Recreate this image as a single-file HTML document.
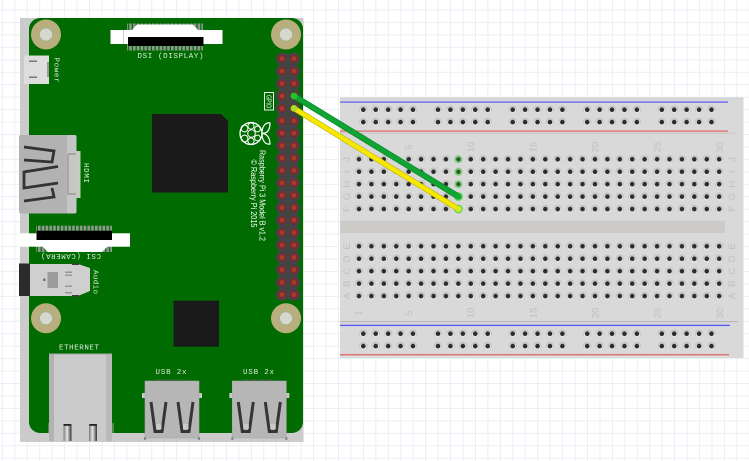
<!DOCTYPE html>
<html><head><meta charset="utf-8"><style>
html,body{margin:0;padding:0;background:#fff}
svg{display:block}
text{font-family:"Liberation Mono",monospace}
.s{font-family:"Liberation Sans",sans-serif}
.w{fill:#dfecdf;font-size:7.5px}
.n{fill:#bfbfbf;font-size:9.5px;font-family:"Liberation Sans",sans-serif;text-anchor:middle}
</style></head><body>
<svg width="749" height="461" viewBox="0 0 749 461" xmlns="http://www.w3.org/2000/svg">
<defs>
<pattern id="grid" patternUnits="userSpaceOnUse" x="1.85" y="9.500" width="12.45" height="12.45">
<path d="M.5 0V12.45M0 .5H12.45" stroke="#ebeef4" stroke-width="1" fill="none"/>
</pattern>
<pattern id="hole" patternUnits="userSpaceOnUse" x="352.79" y="153.1" width="12.42" height="12.45">
<circle cx="6.21" cy="6.22" r="4.200" fill="#c4c4c4"/><circle cx="6.21" cy="7" r="3.400" fill="#e0e0e0"/><circle cx="6.21" cy="6.22" r="2.300" fill="#2c2c2c"/>
</pattern>
<pattern id="hole2" patternUnits="userSpaceOnUse" x="352.79" y="240.1" width="12.42" height="12.45">
<circle cx="6.21" cy="6.22" r="4.200" fill="#c4c4c4"/><circle cx="6.21" cy="7" r="3.400" fill="#e0e0e0"/><circle cx="6.21" cy="6.22" r="2.300" fill="#2c2c2c"/>
</pattern>
<g id="rh"><circle cx="0" cy="0" r="4.200" fill="#c4c4c4"/><circle cx="0" cy=".8" r="3.400" fill="#e0e0e0"/><circle cx="0" cy="0" r="2.300" fill="#2c2c2c"/></g>
<g id="r5"><use href="#rh" x="0"/><use href="#rh" x="12.42"/><use href="#rh" x="24.84"/><use href="#rh" x="37.26"/><use href="#rh" x="49.68"/></g>
<g id="r52"><use href="#r5" y="0"/><use href="#r5" y="12.4"/></g>
<g id="rail"><use href="#r52" x="363.3"/><use href="#r52" x="438"/><use href="#r52" x="512.7"/><use href="#r52" x="587.2"/><use href="#r52" x="661.8"/></g>
<g id="pr"><circle cx="282" cy="0" r="6.300" fill="#444"/><circle cx="294" cy="0" r="6.300" fill="#444"/><circle cx="282" cy="0" r="4" fill="#7e2a28"/><circle cx="294" cy="0" r="4" fill="#7e2a28"/><circle cx="282" cy="0" r="2.400" fill="#a63a32"/><circle cx="294" cy="0" r="2.400" fill="#a63a32"/></g>
<g id="mount"><circle r="15" fill="#b9ae7e"/><circle r="6.6" fill="#d5d8d0" stroke="#a8b088" stroke-width="1"/></g>
<pattern id="teeth" patternUnits="userSpaceOnUse" x="0" y="0" width="3.8" height="10"><rect width="2.6" height="10" fill="#8f9a8f"/></pattern>
<linearGradient id="leg" x1="0" x2="1" y1="0" y2="0"><stop offset="0" stop-color="#777"/><stop offset=".45" stop-color="#e8e8e8"/><stop offset="1" stop-color="#333"/></linearGradient>
<g id="usb">
<rect x="-3" y="12" width="4" height="5" fill="#c8c8c8"/><rect x="53" y="12" width="4" height="5" fill="#c8c8c8"/>
<rect x="0" y="0" width="54" height="57" fill="#b6b6b6" stroke="#a8a8a8" stroke-width=".6"/>
<rect x="-1" y="56" width="2" height="3" fill="#888"/><rect x="53" y="56" width="2" height="3" fill="#888"/>
<path d="M6 21L10 50.500H17L21 21" fill="none" stroke="#353535" stroke-width="3"/>
<path d="M33 21L37 50.500H44L48 21" fill="none" stroke="#353535" stroke-width="3"/>
<rect x="11" y="43" width="5.500" height="5" fill="#c9c9c9"/><rect x="38" y="43" width="5.500" height="5" fill="#c9c9c9"/>
<rect x="12" y="-1.500" width="4" height="1.500" fill="#565f56"/><rect x="20" y="-1.500" width="4" height="1.500" fill="#565f56"/><rect x="28" y="-1.500" width="4" height="1.500" fill="#565f56"/><rect x="36" y="-1.500" width="4" height="1.500" fill="#565f56"/>
</g>
</defs>

<rect width="749" height="461" fill="#fff"/>
<rect width="749" height="461" fill="url(#grid)"/>

<!-- Raspberry Pi -->
<rect x="20" y="18" width="283.500" height="424" fill="#cbcbcb"/>
<rect x="29" y="18" width="274" height="415" rx="11" fill="#006b00"/>
<use href="#mount" x="46" y="34.500"/><use href="#mount" x="286" y="34.500"/>
<use href="#mount" x="46" y="318.300"/><use href="#mount" x="286" y="318.300"/>

<!-- DSI -->
<rect x="127" y="23.500" width="76" height="27" fill="url(#teeth)"/>
<rect x="110.500" y="30" width="112" height="14" fill="#fff"/>
<path d="M132 30L137 24.500H193L198 30Z" fill="#fff"/>
<rect x="123" y="30" width="1" height="14" fill="#cfcfcf"/>
<rect x="128" y="37" width="75.500" height="9" fill="#000"/>
<text class="w" x="137.500" y="58" textLength="66" lengthAdjust="spacing">DSI (DISPLAY)</text>

<!-- Power -->
<rect x="24" y="55.500" width="25" height="28.500" fill="#dedede"/>
<rect x="47" y="62" width="2" height="15" fill="#9a9a9a"/>
<rect x="29" y="60.500" width="8" height="1.500" fill="#777"/><rect x="29" y="76.500" width="8" height="1.500" fill="#777"/>
<text class="w" transform="translate(54.500,57.500) rotate(90)" textLength="25" lengthAdjust="spacing">Power</text>

<!-- HDMI -->
<rect x="19" y="135" width="57.500" height="78.500" rx="2" fill="#b2b2b2"/>
<rect x="67" y="135" width="9.500" height="78.500" rx="2" fill="#c6c6c6"/>
<path d="M68 154H76M68 154V194H76" fill="none" stroke="#9c9c9c" stroke-width="1.500"/>
<rect x="76.500" y="151" width="4" height="47" fill="#c4ccc0"/>
<g fill="none" stroke="#333" stroke-width="2.800" stroke-linejoin="miter">
<path d="M24 147L54 151L52 162L24 160"/>
<path d="M58 166.500L24 172V188L58 183"/>
<path d="M52 188L54 197L24 201"/>
</g>
<text class="w" transform="translate(84,163) rotate(90)" textLength="20" lengthAdjust="spacing">HDMI</text>

<!-- CPU -->
<path d="M152 114H221L228 121V192.500H152Z" fill="#1a1a1a"/>
<rect x="173.500" y="300.700" width="45.500" height="46" fill="#1a1a1a"/>

<!-- CSI -->
<rect x="36" y="225.700" width="76" height="26.300" fill="url(#teeth)"/>
<rect x="19" y="233.300" width="111" height="13.400" fill="#fff"/>
<path d="M42 246L48 252H102L108 246Z" fill="#fff"/>
<rect x="36.500" y="230.700" width="75.500" height="9.300" fill="#000"/>
<text class="w" transform="translate(101,254) rotate(180)" textLength="60" lengthAdjust="spacing">CSI (CAMERA)</text>

<!-- Audio -->
<rect x="19" y="263.500" width="11" height="32.500" fill="#2b2b2b"/>
<path d="M30 264H78L90 268V291L78 296H30Z" fill="#cfcfcf"/>
<rect x="72" y="263.500" width="7" height="1.500" fill="#3c3c3c"/><rect x="72" y="295" width="7" height="1.500" fill="#3c3c3c"/>
<rect x="47.500" y="272" width="10.500" height="16" fill="#9b9b9b"/>
<rect x="43" y="278.500" width="2.500" height="2.500" fill="#777"/>
<rect x="65" y="271.500" width="7" height="1.500" fill="#999"/><rect x="65" y="274.500" width="7" height="1.500" fill="#999"/>
<rect x="65" y="285.500" width="7" height="1.500" fill="#999"/><rect x="65" y="292" width="7" height="1.500" fill="#999"/>
<text class="w" transform="translate(93.500,270) rotate(90)" textLength="24" lengthAdjust="spacing">Audio</text>

<!-- Ethernet -->
<text class="w" x="59" y="349.500" textLength="40" lengthAdjust="spacing">ETHERNET</text>
<rect x="48" y="423" width="66" height="10" fill="#a0a8a0" opacity=".5"/>
<rect x="49" y="353.500" width="63" height="87.500" fill="#cbcbcb"/>
<rect x="49" y="353.500" width="5" height="87.500" fill="#b2b2b2"/>
<rect x="106" y="353.500" width="6" height="87.500" fill="#bababa"/>
<rect x="49" y="353.500" width="63" height="1" fill="#a8a8a8"/>
<rect x="63.500" y="424" width="8" height="17" fill="url(#leg)"/><rect x="89" y="424" width="8" height="17" fill="url(#leg)"/>
<rect x="63.500" y="424" width="7" height="1.800" fill="#222"/><rect x="89.500" y="424" width="7" height="1.800" fill="#222"/>

<!-- USB -->
<text class="w" x="155.500" y="374" textLength="31" lengthAdjust="spacing">USB 2x</text>
<text class="w" x="243" y="374" textLength="31" lengthAdjust="spacing">USB 2x</text>
<use href="#usb" x="145" y="381"/><use href="#usb" x="232.300" y="381"/>

<!-- Logo -->
<g fill="none" stroke="#fff" stroke-width="1">
<circle cx="251" cy="133.500" r="11" stroke-width="1.300"/>
<circle cx="244.500" cy="128.500" r="3.400"/><circle cx="244.500" cy="138.500" r="3.400"/><circle cx="251.500" cy="133.500" r="3.800"/><circle cx="251" cy="126" r="3.100"/><circle cx="251" cy="141" r="3.100"/><circle cx="257.500" cy="129" r="2.900"/><circle cx="257.500" cy="138" r="2.900"/>
<path d="M262 133.500C262 127 265 122 270 123C270 129 268 133.500 262 133.500C267 133.500 270 138 270 144C265 145 262 140 262 133.500Z" stroke-width="1.200"/>
</g>
<text class="s" fill="#fff" font-size="8.500" transform="translate(259.500,150) rotate(90)" textLength="91" lengthAdjust="spacingAndGlyphs">Raspberry Pi 3 Model B v1.2</text>
<text class="s" fill="#fff" font-size="8.500" transform="translate(251,159.500) rotate(90)" textLength="68" lengthAdjust="spacingAndGlyphs">© Raspberry Pi 2015</text>

<!-- GPIO -->
<rect x="264.500" y="92.500" width="9" height="17.500" fill="none" stroke="#eef5ee" stroke-width="1"/>
<text class="s" fill="#eef5ee" font-size="7" transform="translate(266.500,95) rotate(90)" textLength="13" lengthAdjust="spacingAndGlyphs">GPIO</text>

<!-- Header -->
<rect x="278" y="54" width="20" height="245" fill="#444"/>
<use href="#pr" y="58.700"/><use href="#pr" y="71.100"/><use href="#pr" y="83.500"/><use href="#pr" y="96"/><use href="#pr" y="108.400"/><use href="#pr" y="120.800"/><use href="#pr" y="133.200"/><use href="#pr" y="145.600"/><use href="#pr" y="158.100"/><use href="#pr" y="170.500"/><use href="#pr" y="182.900"/><use href="#pr" y="195.300"/><use href="#pr" y="207.700"/><use href="#pr" y="220.200"/><use href="#pr" y="232.600"/><use href="#pr" y="245"/><use href="#pr" y="257.400"/><use href="#pr" y="269.800"/><use href="#pr" y="282.300"/><use href="#pr" y="294.700"/>

<!-- Breadboard -->
<rect x="340" y="97.500" width="403.500" height="260.500" fill="#d9d9d9"/>
<rect x="340" y="97.500" width="403.500" height="2" fill="#d2d2d2"/>
<rect x="340" y="101.300" width="388" height="1.600" fill="#7b7bf0"/>
<rect x="340" y="130.300" width="388" height="1.600" fill="#e08080"/>
<rect x="340" y="132.500" width="395" height="1.600" fill="#cbcbcb"/>
<rect x="340" y="220.700" width="385" height="12.300" fill="#cdcbc8"/>
<rect x="340" y="321" width="398" height="1.200" fill="#b9b9b9"/>
<rect x="340" y="324.700" width="390" height="1.400" fill="#5a5af5"/>
<rect x="340" y="354" width="389" height="1.400" fill="#e07070"/>
<rect x="340" y="356" width="389" height="1" fill="#e0e0e0"/>
<use href="#rail" y="109.700"/><use href="#rail" y="333.700"/>
<rect x="352.790" y="153.100" width="372.600" height="62.250" fill="url(#hole)"/>
<rect x="352.790" y="240.100" width="372.600" height="62.250" fill="url(#hole2)"/>

<g>
<text class="n" transform="translate(412,147) rotate(-90)">5</text>
<text class="n" transform="translate(474,147) rotate(-90)">10</text>
<text class="n" transform="translate(536.500,147) rotate(-90)">15</text>
<text class="n" transform="translate(598.500,147) rotate(-90)">20</text>
<text class="n" transform="translate(660.500,147) rotate(-90)">25</text>
<text class="n" transform="translate(723,147) rotate(-90)">30</text>
<text class="n" transform="translate(362,313) rotate(-90)">1</text>
<text class="n" transform="translate(412,313) rotate(-90)">5</text>
<text class="n" transform="translate(474,313) rotate(-90)">10</text>
<text class="n" transform="translate(536.500,313) rotate(-90)">15</text>
<text class="n" transform="translate(598.500,313) rotate(-90)">20</text>
<text class="n" transform="translate(660.500,313) rotate(-90)">25</text>
<text class="n" transform="translate(723,313) rotate(-90)">30</text>
<text class="n" transform="translate(350,159.300) rotate(-90)">J</text>
<text class="n" transform="translate(350,171.800) rotate(-90)">I</text>
<text class="n" transform="translate(350,184.200) rotate(-90)">H</text>
<text class="n" transform="translate(350,196.600) rotate(-90)">G</text>
<text class="n" transform="translate(350,209) rotate(-90)">F</text>
<text class="n" transform="translate(350,246.300) rotate(-90)">E</text>
<text class="n" transform="translate(350,258.800) rotate(-90)">D</text>
<text class="n" transform="translate(350,271.200) rotate(-90)">C</text>
<text class="n" transform="translate(350,283.700) rotate(-90)">B</text>
<text class="n" transform="translate(350,296) rotate(-90)">A</text>
<text class="n" transform="translate(735,159.300) rotate(-90)">J</text>
<text class="n" transform="translate(735,171.800) rotate(-90)">I</text>
<text class="n" transform="translate(735,184.200) rotate(-90)">H</text>
<text class="n" transform="translate(735,196.600) rotate(-90)">G</text>
<text class="n" transform="translate(735,209) rotate(-90)">F</text>
<text class="n" transform="translate(735,246.300) rotate(-90)">E</text>
<text class="n" transform="translate(735,258.800) rotate(-90)">D</text>
<text class="n" transform="translate(735,271.200) rotate(-90)">C</text>
<text class="n" transform="translate(735,283.700) rotate(-90)">B</text>
<text class="n" transform="translate(735,296) rotate(-90)">A</text>
</g>

<!-- Connected holes -->
<g>
<circle cx="458.400" cy="159.300" r="4" fill="#7fd07a"/><circle cx="458.400" cy="159.300" r="2.200" fill="#2e5a2e"/>
<circle cx="458.400" cy="171.800" r="4" fill="#7fd07a"/><circle cx="458.400" cy="171.800" r="2.200" fill="#2e5a2e"/>
<circle cx="458.400" cy="184.200" r="4" fill="#7fd07a"/><circle cx="458.400" cy="184.200" r="2.200" fill="#2e5a2e"/>
<circle cx="458.400" cy="196.600" r="4.500" fill="#63d95f"/>
<circle cx="458.400" cy="209" r="4.500" fill="#63d95f"/>
</g>

<!-- Wires -->
<g fill="none" stroke-linecap="round">
<path d="M294 108.400L458.400 209" stroke="#b5ae10" stroke-width="5.600"/>
<path d="M294 108.400L458.400 209" stroke="#f7e800" stroke-width="4.400"/>
<path d="M294 96L458.400 196.600" stroke="#0b8a2c" stroke-width="6"/>
<path d="M294 96L458.400 196.600" stroke="#10a532" stroke-width="4.400"/>
</g>
<circle cx="294" cy="96" r="3.400" fill="#22c72c"/>
<circle cx="294" cy="108.400" r="3.400" fill="#a8e020"/>
<circle cx="458.400" cy="196.600" r="3" fill="#12a832"/>
<circle cx="458.400" cy="209" r="3" fill="#d8ea20"/>
</svg>
</body></html>
